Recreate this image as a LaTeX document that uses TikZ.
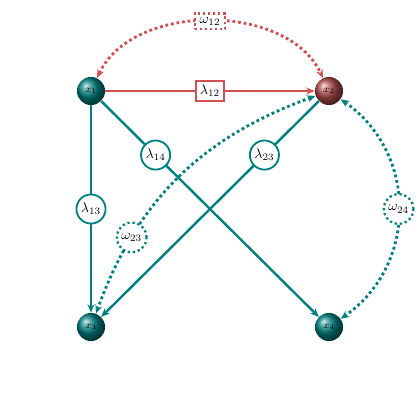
\documentclass[tikz,border=0pt]{standalone}
\usetikzlibrary{arrows.meta,shapes.geometric}
\definecolor{tl}{RGB}{0,128,128}
\definecolor{rd}{RGB}{210,80,80}
\definecolor{rball}{RGB}{175,75,75}
\begin{document}
\begin{tikzpicture}[x=0.025cm,y=-0.025cm,
  ballnode/.style={circle,minimum size=20pt,inner sep=0pt,shading=ball,ball color=tl,font=\scriptsize},
  rballnode/.style={ballnode,ball color=rball},
  tlline/.style={draw=tl,line width=1.7pt,-{Stealth[length=6pt,width=5pt]}},
  rdline/.style={draw=rd,line width=1.7pt,-{Stealth[length=6pt,width=5pt]}},
  tldot/.style={draw=tl,line width=2pt,dotted,{Stealth[length=6pt,width=5pt]}-{Stealth[length=6pt,width=5pt]}},
  rddot/.style={draw=rd,line width=2pt,dotted,{Stealth[length=6pt,width=5pt]}-{Stealth[length=6pt,width=5pt]}},
  lamc/.style={circle,draw=tl,line width=1.3pt,fill=white,inner sep=1.5pt,text=black},
  lamr/.style={rectangle,draw=rd,line width=1.3pt,fill=white,inner sep=3pt,text=black},
  omc/.style={circle,draw=tl,line width=1.6pt,dotted,fill=white,inner sep=2pt,text=black},
  omr/.style={rectangle,draw=rd,line width=1.6pt,dotted,fill=white,inner xsep=3.5pt,inner ysep=2.5pt,text=black}]
\useasboundingbox (0,0) rectangle (420,420);
\node[ballnode] (x1) at (91,91) {$x_1$};
\node[rballnode] (x2) at (329,91) {$x_2$};
\node[ballnode] (x3) at (91,327) {$x_3$};
\node[ballnode] (x4) at (329,327) {$x_4$};
% solid edges
\draw[tlline] (x1) -- node[lamc,pos=0.5] {$\lambda_{13}$} (x3);
\draw[tlline] (x1) -- node[lamc,pos=0.25] {$\lambda_{14}$} (x4);
\draw[tlline] (x2) -- node[lamc,pos=0.25] {$\lambda_{23}$} (x3);
\draw[rdline] (x1) -- node[lamr] {$\lambda_{12}$} (x2);
% dotted curves
\draw[rddot] (x1) to[out=65,in=115,looseness=0.95] node[omr] {$\omega_{12}$} (x2);
\draw[tldot] (x2) to[out=200,in=70] node[omc,pos=0.75] {$\omega_{23}$} (x3);
\draw[tldot] (x2) to[out=-35,in=35,looseness=1.1] node[omc] {$\omega_{24}$} (x4);
\end{tikzpicture}
\end{document}
